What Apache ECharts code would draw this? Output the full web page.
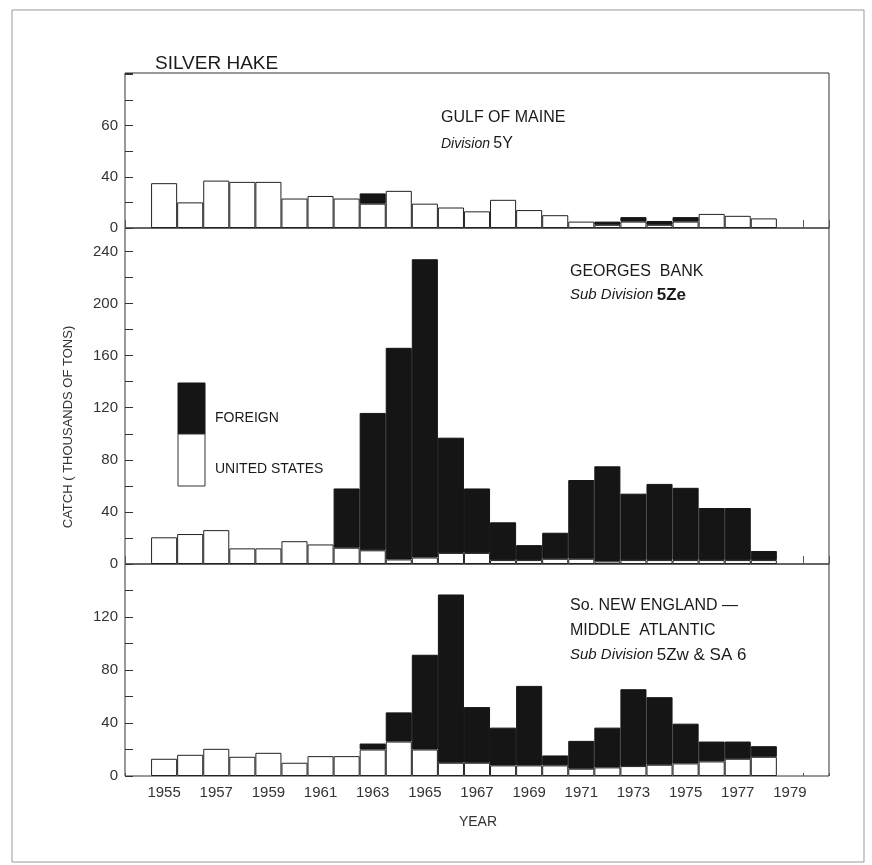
<!DOCTYPE html>
<html>
<head>
<meta charset="utf-8">
<title>Silver hake catch</title>
<script src="https://cdn.jsdelivr.net/npm/echarts@6/dist/echarts.min.js"></script>
<style>
  html, body { margin: 0; padding: 0; background: #fff; }
  #chart { width: 872px; height: 865px; }
</style>
</head>
<body>
<div id="chart"></div>
<script>
// years on the x axis (1954 and 1980 are empty edge slots)
const years = ['1954', '1955', '1956', '1957', '1958', '1959', '1960', '1961', '1962',
  '1963', '1964', '1965', '1966', '1967', '1968', '1969', '1970', '1971', '1972',
  '1973', '1974', '1975', '1976', '1977', '1978', '1979', '1980']

// Gulf of Maine, Division 5Y (thousands of tons)
const maineUS = [null, 35, 20, 37, 36, 36, 23, 25, 23, 19, 29, 19, 16, 13, 22, 14, 10, 5, 2.5, 5, 2.5, 5, 11, 9.5, 7.5, null, null]
const maineForeign = [null, null, null, null, null, null, null, null, null, 8, null, null, null, null, null, null, null, null, 2.5, 3.5, 3, 3.5, null, null, null, null, null]

// Georges Bank, Sub Division 5Ze
const georgesUS = [null, 20.5, 23, 26, 12, 12, 17.5, 15, 12.5, 10.5, 3.5, 5, 8.5, 8.5, 3, 3, 4, 4, 2, 3, 3, 3, 3, 3, 3, null, null]
const georgesForeign = [null, null, null, null, null, null, null, null, 45.5, 105.5, 162.5, 229, 88.5, 49.5, 29, 11.5, 20, 60.5, 73, 51, 58.5, 55.5, 40, 40, 7, null, null]

// So. New England - Middle Atlantic, Sub Division 5Zw & SA 6
const southUS = [null, 13, 16, 20.5, 14.5, 17.5, 10, 15, 15, 20, 26, 20, 10, 10, 8, 8, 8, 5.5, 6.5, 7.5, 8.5, 9.5, 11, 13, 14.5, null, null]
const southForeign = [null, null, null, null, null, null, null, null, null, 4.5, 22, 71.5, 127, 42, 28.5, 60, 7.5, 21, 30, 58, 51, 30, 15, 13, 8, null, null]

// y tick labels as printed on each panel (value -> text)
const topTickValues = [0, 40, 80]
const topTickText = ['0', '40', '60']
const midTickValues = [0, 40, 80, 120, 160, 200, 240]
const midTickText = ['0', '40', '80', '120', '160', '200', '240']
const lowTickValues = [0, 40, 80, 120]
const lowTickText = ['0', '40', '80', '120']

const FONT = 'Liberation Sans'
const INK = '#1a1a1a'
const dom = echarts.init(document.getElementById('chart'))

const grids = [
  { left: 125, top: 73, width: 704, height: 155 },
  { left: 125, top: 228, width: 704, height: 336 },
  { left: 125, top: 564, width: 704, height: 212 }
].map(g => Object.assign(g, { show: true, borderColor: '#333', borderWidth: 1, backgroundColor: 'transparent' }))

function tickFormatter (vals, texts) {
  return function (v) {
    const i = vals.indexOf(v)
    return i < 0 ? '' : texts[i]
  }
}

function makeX (idx, withLabels) {
  return {
    type: 'category',
    gridIndex: idx,
    data: years,
    boundaryGap: true,
    axisLine: { show: false },
    axisTick: {
      show: true,
      inside: true,
      length: idx === 2 ? 3 : 8,
      lineStyle: { color: '#555' },
      // only the mark closing the 1979 slot shows; the edge ones sit on the frame
      interval: function (i, v) { return v === '1954' || v === '1980' }
    },
    axisLabel: withLabels ? {
      show: true,
      interval: function (i, v) { return Number(v) % 2 === 1 },
      color: '#333',
      fontFamily: FONT,
      fontSize: 15,
      margin: 9
    } : { show: false },
    splitLine: { show: false }
  }
}

function makeY (idx, max, vals, texts) {
  return {
    type: 'value',
    gridIndex: idx,
    min: 0,
    max: max,
    interval: 20,
    axisLine: { show: false },
    axisTick: { show: true, inside: true, length: 8, lineStyle: { color: '#333' } },
    axisLabel: {
      color: '#333',
      fontFamily: FONT,
      fontSize: 15,
      margin: 7,
      formatter: tickFormatter(vals, texts)
    },
    splitLine: { show: false }
  }
}

function barPair (idx, us, foreign) {
  const common = {
    type: 'bar',
    xAxisIndex: idx,
    yAxisIndex: idx,
    stack: 'catch' + idx,
    barWidth: '100%',
    barCategoryGap: 0,
    silent: true
  }
  return [
    Object.assign({}, common, {
      name: 'UNITED STATES',
      data: us,
      itemStyle: { color: '#fff', borderColor: '#222', borderWidth: 1 }
    }),
    Object.assign({}, common, {
      name: 'FOREIGN',
      data: foreign,
      itemStyle: { color: '#151515', borderColor: '#151515', borderWidth: 1 }
    })
  ]
}

const option = {
  backgroundColor: '#fff',
  animation: false,
  title: {
    text: 'SILVER HAKE',
    left: 150,
    top: 49,
    textStyle: { fontFamily: FONT, fontSize: 19, fontWeight: 'normal', color: INK }
  },
  grid: grids,
  xAxis: [makeX(0, false), makeX(1, false), makeX(2, true)],
  yAxis: [
    makeY(0, 121, topTickValues, topTickText),
    makeY(1, 258, midTickValues, midTickText),
    makeY(2, 160, lowTickValues, lowTickText)
  ],
  series: [].concat(
    barPair(0, maineUS, maineForeign),
    barPair(1, georgesUS, georgesForeign),
    barPair(2, southUS, southForeign)
  ),
  graphic: [
    // outer frame of the figure
    { type: 'rect', shape: { x: 12, y: 10, width: 852, height: 852 }, style: { fill: 'none', stroke: '#999', lineWidth: 1 }, silent: true },
    // panel captions
    { type: 'text', x: 441, y: 118, style: { text: 'GULF OF MAINE', font: '16px ' + FONT, fill: INK, textVerticalAlign: 'middle' } },
    { type: 'text', x: 441, y: 144, style: { text: '{i|Division} {b|5Y}', fill: INK, textVerticalAlign: 'middle',
      rich: { i: { fontFamily: FONT, fontStyle: 'italic', fontSize: 14, fill: INK }, b: { fontFamily: FONT, fontSize: 16, fill: INK } } } },
    { type: 'text', x: 570, y: 272, style: { text: 'GEORGES  BANK', font: '16px ' + FONT, fill: INK, textVerticalAlign: 'middle' } },
    { type: 'text', x: 570, y: 295, style: { text: '{i|Sub Division} {b|5Ze}', fill: INK, textVerticalAlign: 'middle',
      rich: { i: { fontFamily: FONT, fontStyle: 'italic', fontSize: 15, fill: INK }, b: { fontFamily: FONT, fontSize: 17, fontWeight: 'bold', fill: INK } } } },
    { type: 'text', x: 570, y: 606, style: { text: 'So. NEW ENGLAND \u2014', font: '16px ' + FONT, fill: INK, textVerticalAlign: 'middle' } },
    { type: 'text', x: 570, y: 631, style: { text: 'MIDDLE  ATLANTIC', font: '16px ' + FONT, fill: INK, textVerticalAlign: 'middle' } },
    { type: 'text', x: 570, y: 655, style: { text: '{i|Sub Division} {b|5Zw & SA 6}', fill: INK, textVerticalAlign: 'middle',
      rich: { i: { fontFamily: FONT, fontStyle: 'italic', fontSize: 15, fill: INK }, b: { fontFamily: FONT, fontSize: 17, fill: INK } } } },
    // legend swatches
    { type: 'rect', shape: { x: 178, y: 383, width: 27, height: 51 }, style: { fill: '#151515', stroke: '#151515' } },
    { type: 'rect', shape: { x: 178, y: 434, width: 27, height: 52 }, style: { fill: '#fff', stroke: '#333', lineWidth: 1 } },
    { type: 'text', x: 215, y: 418, style: { text: 'FOREIGN', font: '14px ' + FONT, fill: INK, textVerticalAlign: 'middle' } },
    { type: 'text', x: 215, y: 469, style: { text: 'UNITED STATES', font: '14px ' + FONT, fill: INK, textVerticalAlign: 'middle' } },
    // axis titles
    { type: 'text', x: 68, y: 427, rotation: Math.PI / 2,
      style: { text: 'CATCH ( THOUSANDS OF TONS)', font: '13px ' + FONT, fill: '#333', textAlign: 'center', textVerticalAlign: 'middle' } },
    { type: 'text', x: 478, y: 822, style: { text: 'YEAR', font: '14px ' + FONT, fill: '#333', textAlign: 'center', textVerticalAlign: 'middle' } }
  ]
}

dom.setOption(option)
window.addEventListener('resize', () => dom.resize())
</script>
</body>
</html>
